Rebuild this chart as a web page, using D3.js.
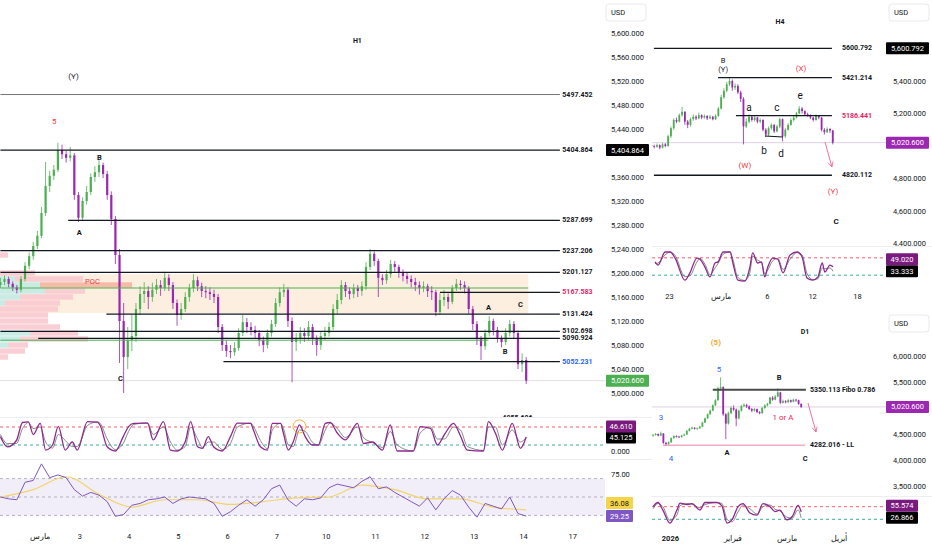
<!DOCTYPE html>
<html>
<head>
<meta charset="utf-8">
<script src="https://cdn.jsdelivr.net/npm/d3@7"></script>
<style>
  body { margin: 0; background: #fff; }
  svg text { font-family: Roboto, "Open Sans", sans-serif; }
</style>
</head>
<body>
<svg id="chart" width="932" height="550"></svg>
<script>
// ---------- H1 (2h bars, open = previous close) ----------
const h1Open0 = 5180;
const h1Close = [5185,5190,5182,5176,5172,5190,5212,5228,5245,5262,
  5300,5345,5362,5372,5405,5398,5392,5396,5330,5292,
  5320,5335,5360,5368,5380,5365,5330,5290,5230,5120,
  5060,5088,5095,5140,5165,5170,5160,5172,5180,5175,
  5192,5180,5150,5130,5140,5160,5175,5188,5178,5170,
  5168,5165,5160,5110,5080,5070,5068,5075,5100,5118,
  5110,5105,5100,5088,5080,5100,5115,5150,5168,5172,
  5120,5085,5090,5100,5095,5110,5090,5080,5095,5100,
  5110,5140,5155,5180,5170,5165,5175,5170,5178,5210,
  5232,5220,5192,5188,5198,5215,5210,5200,5195,5190,
  5185,5180,5175,5178,5170,5168,5135,5155,5160,5152,
  5175,5182,5180,5175,5140,5115,5090,5078,5100,5120,
  5105,5092,5085,5100,5115,5100,5048,5055,5020.6];
const h1High = [5192,5196,5194,5186,5180,5195,5218,5234,5252,5270,
  5310,5385,5370,5380,5417,5414,5404,5410,5400,5335,
  5326,5345,5366,5378,5388,5384,5370,5336,5295,5240,
  5150,5110,5130,5150,5178,5185,5178,5184,5190,5188,
  5202,5198,5185,5156,5150,5168,5182,5198,5194,5184,
  5178,5176,5172,5165,5115,5088,5080,5085,5108,5130,
  5125,5118,5112,5105,5094,5106,5122,5158,5176,5182,
  5176,5126,5100,5110,5108,5120,5115,5096,5102,5110,
  5118,5148,5165,5188,5185,5176,5182,5180,5186,5218,
  5240,5236,5224,5198,5205,5222,5220,5214,5206,5200,
  5196,5192,5186,5186,5182,5178,5172,5166,5172,5166,
  5180,5190,5188,5186,5178,5145,5120,5095,5106,5128,
  5124,5110,5096,5108,5122,5120,5104,5066,5060];
const h1Low = [5175,5180,5176,5170,5166,5168,5186,5206,5222,5240,
  5258,5295,5335,5355,5368,5390,5384,5386,5322,5285,
  5288,5314,5330,5352,5360,5358,5322,5280,5215,5050,
  5000,5040,5070,5085,5130,5150,5140,5152,5165,5162,
  5170,5170,5140,5112,5122,5135,5152,5168,5170,5160,
  5158,5155,5150,5100,5070,5060,5058,5062,5070,5095,
  5100,5096,5090,5078,5068,5074,5094,5110,5144,5160,
  5110,5018,5070,5082,5085,5088,5080,5062,5072,5088,
  5094,5105,5132,5148,5160,5156,5158,5160,5162,5172,
  5205,5212,5160,5180,5182,5192,5202,5192,5186,5182,
  5176,5170,5164,5168,5160,5155,5128,5130,5145,5140,
  5148,5170,5172,5166,5132,5105,5080,5055,5072,5094,
  5096,5084,5076,5080,5094,5090,5040,5035,5015];

const h1Levels = [5497.452, 5404.864, 5287.699, 5237.206, 5201.127, 5167.583, 5131.424, 5102.698, 5090.924, 5052.231];
const h1LevelStart = [0, 0, 16.5, 0, 0, 107, 25.8, 0, 9.2, 54.3];
const h1LowLevel = 4955.686;
const h1Green = [5175, 5088];
const h1GreenEnd = [128.5, 118.8];
const h1ValueArea = [5133, 5198];

const vpPrice = [5230, 5200, 5190, 5180, 5170, 5160, 5150, 5140, 5130, 5120, 5110, 5100, 5090, 5080, 5070, 5060];
const vpUp    = [0, 0, 15, 40, 45, 20, 5, 0, 0, 0, 0, 30, 20, 8, 0, 0];
const vpDown  = [8, 35, 68, 92, 40, 53, 55, 58, 48, 48, 60, 48, 68, 20, 25, 8];
const vpPOC = 5180;

const h1StochT = [0,1.7,3.9,5.4,6.8,8.0,9.7,11.0,12.7,14.1,15.8,17.5,18.7,21.2,23.6,24.3,26.0,28.0,29.9,31.2,
  32.4,35.8,37.2,39.7,41.4,43.1,45.0,46.3,48.0,49.2,50.6,51.9,54.0,56.0,57.7,60.9,61.6,63.3,65.0,66.2,
  68.2,68.9,70.1,71.3,72.8,74.2,75.9,77.4,79.1,80.3,82.0,84.0,86.9,88.4,90.6,93.0,94.9,96.6,100.5,102.2,
  104.7,106.4,108.1,110.3,112.0,113.7,117.6,118.8,120.5,122.2,124.6,126.6,128];
const h1StochK = [48,14,35,95,97,55,92,3,20,82,3,30,3,98,96,85,14,0,48,81,
  92,93,37,98,3,0,31,98,14,9,48,14,0,48,93,92,70,14,3,92,
  92,59,3,31,87,48,20,20,92,95,60,37,92,25,30,3,87,0,0,81,
  75,20,55,92,50,3,0,98,60,3,92,9,46.61];
const h1StochD = [55,25,25,75,95,75,80,30,10,55,35,15,15,85,97,92,40,5,25,65,
  88,94,55,80,30,3,15,80,40,12,30,30,5,25,80,93,82,35,8,70,
  92,75,20,15,70,65,30,20,70,93,75,45,80,45,28,12,65,20,0,60,
  80,40,40,80,70,15,2,80,80,20,70,30,45.125];
const h1Rsi = [50,48,47,66,68,86,71,74,71,58,51,55,52,45,29,31,41,43,47,48,
  50,43,48,50,49,48,43,29,34,41,47,40,47,59,63,47,40,48,47,49,
  60,64,62,60,67,72,59,61,55,50,45,40,49,36,48,57,52,39,28,43,
  40,37,50,32,29.25];
const h1RsiMa = [50,58,72,53,39,47,47,42,45,49,50,63,58,48,48,39,36.08];
const h1TickIdx = [9.5, 19.2, 31.2, 43.2, 55.2, 67.2, 79.2, 91.2, 103.2, 115.2, 127.2, 139.2];
const h1TickLabels = ["مارس", "3", "4", "5", "6", "7", "10", "11", "12", "13", "14", "17"];

// ---------- H4 ----------
const h4Open0 = 5005;
const h4Close = [5000,4995,5005,4990,5010,5000,5060,5110,5160,5150,
  5190,5210,5150,5130,5165,5180,5170,5190,5175,5185,
  5170,5180,5165,5185,5230,5300,5340,5380,5400,5360,
  5370,5330,5290,5120,5150,5180,5160,5175,5150,5160,
  5100,5070,5110,5130,5090,5120,5165,5060,5100,5130,
  5160,5175,5200,5230,5215,5195,5190,5175,5160,5185,
  5175,5100,5085,5105,5095,5020.6];
const h4High = [5012,5008,5015,5010,5020,5018,5070,5120,5170,5175,
  5200,5240,5215,5160,5175,5195,5190,5205,5195,5195,
  5190,5192,5185,5195,5240,5315,5355,5395,5420,5410,
  5385,5380,5340,5300,5170,5195,5190,5185,5180,5170,
  5165,5110,5120,5140,5135,5130,5175,5170,5110,5140,
  5170,5185,5210,5245,5240,5220,5205,5195,5180,5195,
  5190,5180,5110,5115,5110,5100];
const h4Low = [4990,4985,4990,4980,4985,4992,4995,5050,5100,5140,
  5145,5180,5130,5110,5120,5155,5160,5165,5165,5168,
  5160,5165,5158,5160,5180,5225,5290,5330,5370,5340,
  5345,5320,5270,5010,5110,5140,5150,5150,5140,5140,
  5090,5055,5060,5100,5080,5085,5110,5030,5050,5095,
  5125,5150,5170,5195,5200,5185,5180,5165,5150,5155,
  5165,5090,5070,5080,5080,5010];
const h4Levels = [5600.792, 5421.214, 5186.441, 4820.112];
const h4LevelStart = [0.9, 23.9, 30.3, 0.9];
const h4StochT = [1.3,2.4,4.9,6.7,8.5,12.0,13.8,16.3,17.4,19.2,21.0,22.8,23.9,25.7,28.2,29.2,31.0,33.5,35.3,36.3,
  38.1,39.5,40.6,41.7,43.5,45.3,47.2,49.7,52.2,54.0,55.8,57.9,59.7,61.2,62.2,64.0,65.1];
const h4StochK = [66,55,100,100,79,3,28,79,75,48,14,62,66,100,100,62,3,0,48,97,
  62,66,14,48,79,75,28,90,100,83,10,3,14,62,31,55,49.02];
const h4StochD = [60,62,90,100,88,15,18,65,78,58,22,45,60,92,100,75,12,2,30,85,
  72,62,25,38,70,78,40,75,98,90,25,5,8,45,42,45,33.333];
const h4TickIdx = [6.3, 24.9, 41.4, 57.6, 73.7];
const h4TickLabels = ["23", "مارس", "6", "12", "18"];

// ---------- D1 ----------
const d1Open0 = 4470;
const d1Close = [4480,4500,4470,4510,4330,4310,4340,4420,4460,4450,
  4440,4470,4490,4560,4600,4620,4600,4610,4640,4720,
  4800,4880,4950,5050,5150,5380,5400,4880,4700,4900,
  5000,4970,4800,4950,5040,5060,5030,4980,4950,4980,
  4920,4900,5000,5050,5080,5200,5160,5220,5300,5100,
  5130,5110,5150,5120,5160,5150,5080,5020.6];
const d1High = [4500,4520,4510,4545,4515,4350,4360,4435,4475,4475,
  4465,4485,4505,4575,4620,4640,4630,4625,4660,4735,
  4815,4895,4970,5070,5170,5410,5590,5420,4900,4930,
  5030,5050,4990,4970,5060,5090,5080,5050,5000,5000,
  4990,4940,5020,5070,5100,5220,5230,5250,5380,5310,
  5160,5150,5170,5160,5180,5175,5160,5090];
const d1Low = [4450,4470,4455,4465,4310,4282,4290,4330,4410,4430,
  4425,4430,4460,4480,4550,4590,4585,4580,4600,4630,
  4710,4790,4870,4940,5040,5140,5340,4850,4400,4680,
  4880,4940,4650,4780,4930,5020,5000,4960,4920,4930,
  4900,4880,4890,4980,5030,5070,5140,5150,5210,5080,
  5090,5090,5100,5100,5110,5120,5060,5000];
const d1Fibo = 5350.113;
const d1LL = 4282.016;
const d1StochT = [0,1.9,3.8,6.5,9.2,10.4,13.1,15,18.1,20,24.6,26.5,28.5,30.4,32.7,34.6,37.3,40,42.3,45,46.9,48.8,51.5,53.5,55.8,57];
const d1StochK = [80,100,64,2,64,97,90,95,64,100,100,84,2,18,80,95,50,40,95,80,57,64,17,32,86,55.574];
const d1StochD = [70,95,80,15,40,85,95,92,75,90,100,95,20,8,55,88,70,45,80,88,68,60,30,25,65,26.866];
const d1TickIdx = [6.5, 30.4, 51.2, 71.2];
const d1TickLabels = ["2026", "فبراير", "مارس", "أبريل"];

const lastPrice = 5020.6;
const stochBands = [80, 20];
const rsiBands = [70, 50, 30];

// ---------- helpers ----------
const TXT = "#131722";
const UP = "#4caf50", DOWN = "#9c27b0";
const fmtP = d3.format(",.3f");
const svg = d3.select("#chart");
const defs = svg.append("defs");

function clip(id, x, y, w, h) {
  defs.append("clipPath").attr("id", id).append("rect")
    .attr("x", x).attr("y", y).attr("width", w).attr("height", h);
  return `url(#${id})`;
}

defs.append("marker").attr("id", "arrow").attr("viewBox", "0 0 10 10")
  .attr("refX", 9).attr("refY", 5).attr("markerWidth", 7).attr("markerHeight", 7).attr("orient", "auto")
  .append("path").attr("d", "M1,1 L9,5 L1,9").attr("fill", "none")
  .attr("stroke", "#f06292").attr("stroke-width", 1.2);

function drawCandles(g, x, y, open0, close, high, low, bw) {
  const bars = close.map((c, i) => ({ i, o: i ? close[i - 1] : open0, c, h: high[i], l: low[i] }));
  const col = d => d.c >= d.o ? UP : DOWN;
  g.selectAll(null).data(bars).join("line")
    .attr("x1", d => x(d.i)).attr("x2", d => x(d.i))
    .attr("y1", d => y(d.h)).attr("y2", d => y(d.l))
    .attr("stroke", col).attr("stroke-width", 0.8);
  g.selectAll(null).data(bars).join("rect")
    .attr("x", d => x(d.i) - bw / 2).attr("width", bw)
    .attr("y", d => y(Math.max(d.o, d.c)))
    .attr("height", d => Math.max(0.8, Math.abs(y(d.o) - y(d.c))))
    .attr("fill", col);
}

function hline(g, x1, x2, yv, color, w, dash) {
  g.append("line").attr("x1", x1).attr("x2", x2).attr("y1", yv).attr("y2", yv)
    .attr("stroke", color).attr("stroke-width", w).attr("stroke-dasharray", dash || null);
}

function label(g, x, y, text, o = {}) {
  return g.append("text").text(text).attr("x", x).attr("y", y)
    .attr("text-anchor", o.anchor || "middle").attr("dominant-baseline", "central")
    .style("font-size", (o.size || 7.5) + "px").style("font-weight", o.weight || 400)
    .style("fill", o.color || TXT);
}

function tag(g, x, yc, w, text, bg, fg) {
  g.append("rect").attr("x", x).attr("y", yc - 6).attr("width", w).attr("height", 12)
    .attr("rx", 1).attr("fill", bg);
  label(g, x + w / 2, yc, text, { color: fg || "#fff" });
}

function spread(tags, gap) {
  tags.sort((a, b) => b.y - a.y);
  for (let i = 1; i < tags.length; i++) {
    if (tags[i - 1].y - tags[i].y < gap) tags[i].y = tags[i - 1].y - gap;
  }
  return tags;
}

// tick labels hidden behind a value tag are left out, as on the reference
function priceAxis(g, y, ticks, x, anchor, fmt, tagYs = []) {
  const shown = ticks.filter(v => tagYs.every(ty => Math.abs(y(v) - ty) > 10));
  const ax = g.append("g").attr("transform", `translate(${x},0)`)
    .call(d3.axisRight(y).tickValues(shown).tickSize(0).tickPadding(0).tickFormat(fmt));
  ax.select(".domain").remove();
  ax.selectAll("text").attr("text-anchor", anchor).style("font-size", "7.5px").style("fill", TXT);
}

function timeAxis(g, x, idx, labels, yPos, boldFirst) {
  const ax = g.append("g").attr("transform", `translate(0,${yPos})`)
    .call(d3.axisBottom(x).tickValues(idx).tickSize(0).tickPadding(0).tickFormat((d, i) => labels[i]));
  ax.select(".domain").remove();
  ax.selectAll("text").style("font-size", "7.5px").style("fill", TXT)
    .style("font-weight", (d, i) => (boldFirst && i === 0) ? 700 : 400);
}

function oscLine(g, x, y, t, v, color, w) {
  g.append("path").datum(t.map((tt, i) => [tt, v[i]]))
    .attr("fill", "none").attr("stroke", color).attr("stroke-width", w)
    .attr("d", d3.line().x(d => x(d[0])).y(d => y(d[1])).curve(d3.curveMonotoneX));
}

function drawStoch(g, x, y, t, k, d, x0, x1) {
  hline(g, x0, x1, y(stochBands[0]), "#f23645", 0.8, "3,3");
  hline(g, x0, x1, y(stochBands[1]), "#089981", 0.8, "3,3");
  oscLine(g, x, y, t, d, "#6a6a6a", 0.8);
  oscLine(g, x, y, t, k, "#8e2a8e", 1.3);
}

function usdBox(g, x, y) {
  g.append("rect").attr("x", x).attr("y", y).attr("width", 40).attr("height", 17).attr("rx", 3)
    .attr("fill", "#fff").attr("stroke", "#e0e3eb").attr("stroke-width", 0.8);
  label(g, x + 5, y + 8.5, "USD", { anchor: "start", size: 7.5 });
}

function notes(g, x, y, list) {
  list.forEach(n => label(g, x(n.t), y(n.p), n.text, n));
}

// ================= H1 =================
{
  const g = svg.append("g");
  const x = d3.scaleLinear().domain([0, 128]).range([0.4, 526.2]);
  const y = d3.scaleLinear().domain([5000, 5600]).range([393, 33]);
  const pane = g.append("g").attr("clip-path", clip("h1clip", 0, 0, 605, 417));

  // value area band
  pane.append("rect").attr("x", x(0) - 1).attr("width", x(128.5) - x(0) + 1)
    .attr("y", y(h1ValueArea[1])).attr("height", y(h1ValueArea[0]) - y(h1ValueArea[1]))
    .attr("fill", "#fcefdf");

  // volume profile
  const vpTot = vpUp.map((u, i) => u + vpDown[i]);
  const xv = d3.scaleLinear().domain([0, d3.max(vpTot)]).range([0, 132]);
  const rows = vpPrice.map((p, i) => ({ p, up: vpUp[i], tot: vpTot[i] }));
  pane.selectAll(null).data(rows).join("rect")
    .attr("x", d => xv(d.up)).attr("width", d => xv(d.tot) - xv(d.up))
    .attr("y", d => y(d.p + 4.5)).attr("height", d => y(d.p - 4.5) - y(d.p + 4.5))
    .attr("fill", d => d.p === vpPOC ? "#f4b5a2" : "#f8c9cf").attr("opacity", 0.9);
  pane.selectAll(null).data(rows).join("rect")
    .attr("x", 0).attr("width", d => xv(d.up))
    .attr("y", d => y(d.p + 4.5)).attr("height", d => y(d.p - 4.5) - y(d.p + 4.5))
    .attr("fill", "#c9ebe5");

  hline(pane, 0, 605, y(lastPrice), "#d6d8de", 0.8);
  drawCandles(pane, x, y, h1Open0, h1Close, h1High, h1Low, 2.2);

  h1Green.forEach((v, i) => hline(pane, x(0), x(h1GreenEnd[i]), y(v), "#4caf50", 1));
  const lvlColor = { 5167.583: "#e91e63", 5052.231: "#2962ff" };
  h1Levels.forEach((v, i) => {
    const first = i === 0;
    hline(pane, x(h1LevelStart[i]), x(136.2), y(v), first ? "#666" : TXT, first ? 0.9 : 1.3);
    label(pane, x(136.8), y(v), d3.format(".3f")(v), { anchor: "start", size: 7, weight: 700, color: lvlColor[v] || TXT });
  });
  // level below the visible range: only the top of its label shows
  label(pane, x(122.2), y(h1LowLevel) - 2, d3.format(".3f")(h1LowLevel), { anchor: "start", size: 7, weight: 700 });

  notes(pane, x, y, [
    { t: 86.9, p: 5587, text: "H1", size: 7, weight: 700 },
    { t: 17.8, p: 5528, text: "(Y)", size: 8 },
    { t: 13.1, p: 5452, text: "5", size: 8, color: "#f23645" },
    { t: 24.1, p: 5393, text: "B", weight: 700 },
    { t: 19.2, p: 5268, text: "A", weight: 700 },
    { t: 29.2, p: 5025, text: "C", weight: 700 },
    { t: 22.4, p: 5186, text: "POC", size: 7.5, color: "#f23645" },
    { t: 118.8, p: 5142, text: "A", weight: 700 },
    { t: 126.6, p: 5148, text: "C", weight: 700 },
    { t: 122.9, p: 5070, text: "B", weight: 700 }
  ]);

  // axis
  priceAxis(g, y, d3.range(5000, 5601, 40), 611, "start", fmtP, [y(5404.864), y(lastPrice)]);
  tag(g, 606, y(5404.864), 43, fmtP(5404.864), "#000");
  tag(g, 606, y(lastPrice), 43, fmtP(lastPrice), "#4caf50");
  usdBox(g, 606, 4);

  // separators
  hline(g, 0, 652, 417.5, "#eceef2", 1);
  hline(g, 0, 652, 459.5, "#eceef2", 1);

  // stochastic
  const ys = d3.scaleLinear().domain([0, 100]).range([451, 421]);
  const sp = g.append("g").attr("clip-path", clip("h1s", 0, 418, 605, 41));
  drawStoch(sp, x, ys, h1StochT, h1StochK, h1StochD, 0, 605);
  sp.append("circle").attr("cx", x(72.8)).attr("cy", ys(82)).attr("r", 6.5)
    .attr("fill", "none").attr("stroke", "#f5a623").attr("stroke-width", 0.9);
  const sTags = spread([{ v: 46.61, y: ys(46.61), c: "#7b1a7e" }, { v: 45.125, y: ys(45.125), c: "#000" }], 11);
  priceAxis(g, ys, [100, 0], 611, "start", fmtP, sTags.map(t => t.y));
  sTags.forEach(t => tag(g, 606, t.y, 30, fmtP(t.v), t.c));

  // RSI
  const yr = d3.scaleLinear().domain([0, 100]).range([543, 451]);
  const rp = g.append("g").attr("clip-path", clip("h1r", 0, 460, 605, 66));
  rp.append("rect").attr("x", 0).attr("width", 605).attr("y", yr(rsiBands[0]))
    .attr("height", yr(rsiBands[2]) - yr(rsiBands[0])).attr("fill", "#7e57c2").attr("opacity", 0.1);
  rsiBands.forEach(v => hline(rp, 0, 605, yr(v), "#9598a1", 0.7, "3,3"));
  const rsiT = h1Rsi.map((v, i) => i * 2);
  const maT = h1RsiMa.map((v, i) => i * 8);
  oscLine(rp, x, yr, maT, h1RsiMa, "#f2d46a", 1.2);
  rp.append("path").datum(rsiT.map((t, i) => [t, h1Rsi[i]]))
    .attr("fill", "none").attr("stroke", "#7e57c2").attr("stroke-width", 1)
    .attr("d", d3.line().x(d => x(d[0])).y(d => yr(d[1])));
  const rTags = spread([{ v: 36.08, y: yr(36.08), c: "#f5d547", f: TXT }, { v: 29.25, y: yr(29.25), c: "#7e57c2", f: "#fff" }], 13);
  priceAxis(g, yr, [75, 50, 25], 611, "start", d3.format(".2f"), rTags.map(t => t.y));
  rTags.forEach(t => tag(g, 606, t.y, 27, d3.format(".2f")(t.v), t.c, t.f));

  timeAxis(g, x, h1TickIdx, h1TickLabels, 534, false);
}

// ================= H4 =================
{
  const g = svg.append("g");
  const x = d3.scaleLinear().domain([0, 65]).range([651.4, 832.75]);
  const y = d3.scaleLinear().domain([4400, 5600]).range([243.5, 48.5]);
  const pane = g.append("g").attr("clip-path", clip("h4clip", 652, 0, 236, 246));

  hline(pane, 652, 888, y(lastPrice), "#dccbe3", 0.9);
  drawCandles(pane, x, y, h4Open0, h4Close, h4High, h4Low, 1.8);
  h4Levels.forEach((v, i) => {
    hline(pane, x(h4LevelStart[i]), x(64.7), y(v), TXT, 1.3);
    label(pane, x(68.3), y(v), d3.format(".3f")(v), { anchor: "start", size: 7, weight: 700, color: v === 5186.441 ? "#e91e63" : TXT });
  });
  pane.append("line").attr("x1", x(40.7)).attr("y1", y(5062)).attr("x2", x(47.2)).attr("y2", y(5055))
    .attr("stroke", TXT).attr("stroke-width", 1.1);
  pane.append("line").attr("x1", x(62.2)).attr("y1", y(5025)).attr("x2", x(64.7)).attr("y2", y(4871))
    .attr("stroke", "#f06292").attr("stroke-width", 0.9).attr("marker-end", "url(#arrow)");

  notes(pane, x, y, [
    { t: 46.1, p: 5763, text: "H4", size: 7, weight: 700 },
    { t: 25.7, p: 5529, text: "B", size: 7.5 },
    { t: 25.7, p: 5468, text: "(Y)", size: 7.5 },
    { t: 53.6, p: 5480, text: "(X)", size: 8, color: "#f23645" },
    { t: 35.0, p: 5240, text: "a", size: 10 },
    { t: 45.0, p: 5234, text: "c", size: 10 },
    { t: 53.3, p: 5308, text: "e", size: 10 },
    { t: 40.4, p: 4975, text: "b", size: 10 },
    { t: 46.5, p: 4951, text: "d", size: 10 },
    { t: 33.5, p: 4883, text: "(W)", size: 8, color: "#f23645" },
    { t: 65.1, p: 4717, text: "(Y)", size: 8, color: "#f23645" },
    { t: 66.2, p: 4538, text: "C", size: 8, weight: 700 }
  ]);

  priceAxis(g, y, d3.range(4400, 5601, 200), 926, "end", fmtP, [y(5600.792), y(lastPrice)]);
  tag(g, 886, y(5600.792), 43, fmtP(5600.792), "#000");
  tag(g, 886, y(lastPrice), 43, fmtP(lastPrice), "#9c27b0");
  usdBox(g, 889, 4);

  hline(g, 652, 932, 246.5, "#eceef2", 1);
  const ys = d3.scaleLinear().domain([0, 100]).range([281, 252]);
  const sp = g.append("g").attr("clip-path", clip("h4s", 652, 247, 236, 41));
  drawStoch(sp, x, ys, h4StochT, h4StochK, h4StochD, 652, 888);
  const sTags = spread([{ v: 49.02, y: ys(49.02), c: "#7b1a7e" }, { v: 33.333, y: ys(33.333), c: "#000" }], 12);
  priceAxis(g, ys, [100, 0], 926, "end", fmtP, sTags.map(t => t.y));
  sTags.forEach(t => tag(g, 886, t.y, 32, fmtP(t.v), t.c));

  timeAxis(g, x, h4TickIdx, h4TickLabels, 294, false);
}

// ================= D1 =================
{
  const g = svg.append("g");
  const x = d3.scaleLinear().domain([0, 57]).range([653, 801.2]);
  const y = d3.scaleLinear().domain([3500, 6000]).range([486, 356]);
  const pane = g.append("g").attr("clip-path", clip("d1clip", 652, 310, 236, 185));

  hline(pane, 652, 888, y(lastPrice), "#dccbe3", 0.9);
  hline(pane, x(3.8), x(58.5), y(d1LL), "#f7a8c4", 1.5);
  drawCandles(pane, x, y, d1Open0, d1Close, d1High, d1Low, 1.8);
  hline(pane, x(23), x(58.8), y(d1Fibo), "#4a4a4a", 2);
  label(pane, x(60.4), y(d1Fibo), d3.format(".3f")(d1Fibo) + " Fibo 0.786", { anchor: "start", size: 7, weight: 700 });
  label(pane, x(60.4), y(d1LL), d3.format(".3f")(d1LL) + " - LL", { anchor: "start", size: 7, weight: 700 });
  pane.append("line").attr("x1", x(59.6)).attr("y1", y(5096)).attr("x2", x(62.7)).attr("y2", y(4538))
    .attr("stroke", "#f06292").attr("stroke-width", 0.9).attr("marker-end", "url(#arrow)");

  notes(pane, x, y, [
    { t: 58.5, p: 6462, text: "D1", size: 7, weight: 700 },
    { t: 24.2, p: 6269, text: "(5)", size: 8, weight: 700, color: "#f9a825" },
    { t: 25.4, p: 5731, text: "5", size: 8, color: "#2962ff" },
    { t: 3.1, p: 4808, text: "3", size: 8, color: "#2962ff" },
    { t: 6.9, p: 4038, text: "4", size: 8, color: "#2962ff" },
    { t: 28.5, p: 4135, text: "A", size: 7.5, weight: 700 },
    { t: 48.5, p: 5596, text: "B", size: 7.5, weight: 700 },
    { t: 58.5, p: 4038, text: "C", size: 7.5, weight: 700 },
    { t: 50, p: 4808, text: "1 or A", size: 8, color: "#e91e63" }
  ]);

  priceAxis(g, y, d3.range(3500, 6001, 500), 926, "end", fmtP, [y(lastPrice)]);
  tag(g, 886, y(lastPrice), 43, fmtP(lastPrice), "#9c27b0");
  usdBox(g, 889, 315);

  hline(g, 652, 932, 496.5, "#eceef2", 1);
  const ys = d3.scaleLinear().domain([0, 100]).range([523.5, 502.5]);
  const sp = g.append("g").attr("clip-path", clip("d1s", 652, 497, 236, 31));
  drawStoch(sp, x, ys, d1StochT, d1StochK, d1StochD, 652, 888);
  const sTags = spread([{ v: 55.574, y: ys(55.574), c: "#7b1a7e" }, { v: 26.866, y: ys(26.866), c: "#000" }], 12);
  priceAxis(g, ys, [100, 0], 926, "end", fmtP, sTags.map(t => t.y));
  sTags.forEach(t => tag(g, 886, t.y, 32, fmtP(t.v), t.c));

  timeAxis(g, x, d1TickIdx, d1TickLabels, 536, true);
}
</script>
</body>
</html>
